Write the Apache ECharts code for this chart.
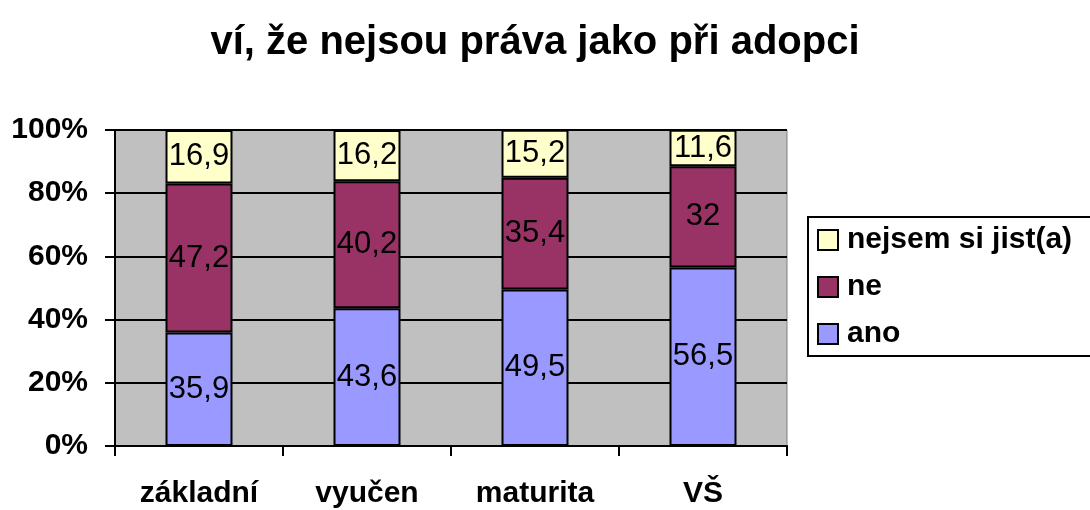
<!DOCTYPE html>
<html>
<head>
<meta charset="utf-8">
<script src="https://cdn.jsdelivr.net/npm/echarts@6/dist/echarts.min.js"></script>
<style>
  html, body { margin: 0; padding: 0; background: #fff; }
  #main { width: 1090px; height: 510px; }
</style>
</head>
<body>
<div id="main"></div>
<script>
// data
const categories = ["základní", "vyučen", "maturita", "VŠ"];
const ano = [35.9, 43.6, 49.5, 56.5];
const ne = [47.2, 40.2, 35.4, 32];
const nejsem = [16.9, 16.2, 15.2, 11.6];
const yTicks = [0, 20, 40, 60, 80, 100];

const FONT = "'Liberation Sans', Arial, sans-serif";

const chartDom = document.getElementById("main");
const myChart = echarts.init(chartDom);

// hodnoty s desetinnou čárkou
const fmt = (p) => String(p.value).replace(".", ",");

const barLabel = {
  show: true,
  position: "inside",
  color: "#000",
  fontFamily: FONT,
  fontSize: 31,
  formatter: fmt,
};

const mkSeries = (name, data, color) => ({
  name: name,
  type: "bar",
  stack: "total",
  barWidth: 67,
  data: data,
  itemStyle: { color: color, borderColor: "#000", borderWidth: 2 },
  label: barLabel,
  emphasis: { disabled: true },
});

const option = {
  animation: false,
  title: {
    text: "ví, že nejsou práva jako při adopci",
    left: 530,
    textAlign: "center",
    top: 18,
    textStyle: { fontFamily: FONT, fontSize: 40, fontWeight: "bold", color: "#000" },
  },
  legend: {
    orient: "vertical",
    left: 808,
    top: 217,
    width: 300,
    padding: [8, 30, 7, 9],
    itemGap: 17,
    itemWidth: 20,
    itemHeight: 20,
    borderColor: "#000",
    borderWidth: 2,
    icon: "rect",
    data: ["nejsem si jist(a)", "ne", "ano"],
    textStyle: { fontFamily: FONT, fontSize: 30, fontWeight: "bold", color: "#000", padding: [0, 0, 0, 4] },
  },
  grid: {
    left: 115,
    right: 303,
    top: 130,
    bottom: 64,
    show: true,
    backgroundColor: "#C0C0C0",
    borderColor: "#808080",
    borderWidth: 1,
  },
  xAxis: {
    type: "category",
    data: categories,
    axisLine: { lineStyle: { color: "#000", width: 2 } },
    axisTick: { show: true, length: 10, lineStyle: { color: "#000", width: 2 } },
    axisLabel: { margin: 33, fontFamily: FONT, fontSize: 30, fontWeight: "bold", color: "#000" },
  },
  yAxis: {
    type: "value",
    min: yTicks[0],
    max: yTicks[yTicks.length - 1],
    interval: 20,
    axisLine: { show: true, lineStyle: { color: "#000", width: 2 } },
    axisTick: { show: true, length: 10, lineStyle: { color: "#000", width: 2 } },
    splitLine: { lineStyle: { color: "#000", width: 2 } },
    axisLabel: {
      margin: 27,
      fontFamily: FONT,
      fontSize: 30,
      fontWeight: "bold",
      color: "#000",
      formatter: "{value}%",
    },
  },
  series: [
    mkSeries("ano", ano, "#9999FF"),
    mkSeries("ne", ne, "#993366"),
    mkSeries("nejsem si jist(a)", nejsem, "#FFFFCC"),
  ],
};

option && myChart.setOption(option);
</script>
</body>
</html>
